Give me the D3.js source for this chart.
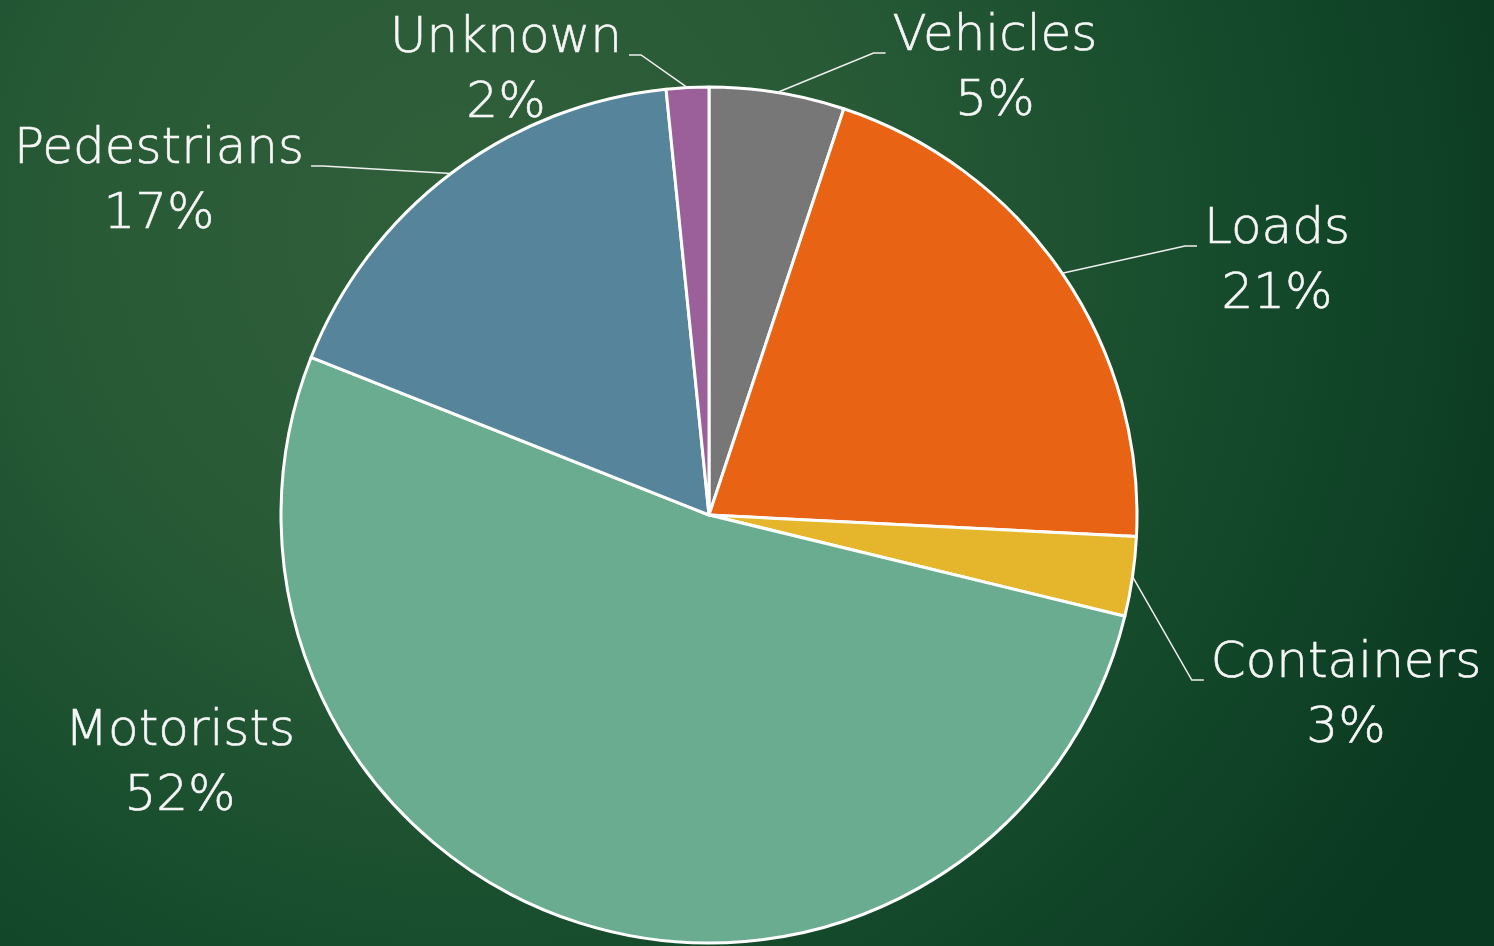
<!DOCTYPE html>
<html>
<head>
<meta charset="utf-8">
<script src="https://cdn.jsdelivr.net/npm/d3@7"></script>
<style>
  html, body { margin: 0; padding: 0; background: #1c4c2e; }
  svg { display: block; }
</style>
</head>
<body>
<svg id="chart" width="1494" height="946"></svg>
<script>
// Incident sources, share of total (%)
const categories = ["Vehicles", "Loads", "Containers", "Motorists", "Pedestrians", "Unknown"];
const shares = [5.1, 20.7, 3.0, 52.2, 17.4, 1.6];
const colors = ["#777777", "#e96314", "#e5b52b", "#6aac90", "#55849b", "#9b5f99"];

// Label placement: centre x and first baseline, relative to the pie centre,
// and which side of the label the leader line attaches to (0 = none).
const labelLayout = {
  Vehicles:    { dx: 286,  dy: -465, side: -1 },
  Loads:       { dx: 568,  dy: -272, side: -1 },
  Containers:  { dx: 637,  dy: 162,  side: -1 },
  Motorists:   { dx: -529, dy: 230,  side: 0 },
  Pedestrians: { dx: -550, dy: -352, side: 1 },
  Unknown:     { dx: -203, dy: -463, side: 1 }
};

const W = 1494, H = 946;
const cx = 709, cy = 515, R = 428;
const fontFamily = "'DejaVu Sans', 'Open Sans', sans-serif";

const svg = d3.select("#chart");

// Chalkboard-green backdrop
const defs = svg.append("defs");
const bg = defs.append("radialGradient")
  .attr("id", "bg")
  .attr("gradientUnits", "userSpaceOnUse")
  .attr("cx", 470).attr("cy", 230).attr("r", 1120);
[[0, "#30603a"], [0.35, "#285a36"], [0.7, "#144a2b"], [1, "#0a3921"]].forEach(([o, c]) =>
  bg.append("stop").attr("offset", o).attr("stop-color", c));
svg.append("rect").attr("width", W).attr("height", H).attr("fill", "url(#bg)");

const data = categories.map((name, i) => ({ name, value: shares[i], color: colors[i] }));
const total = d3.sum(shares);

const pie = d3.pie().value(d => d.value).sort(null);
const arcs = pie(data);
const arc = d3.arc().innerRadius(0).outerRadius(R);

const g = svg.append("g").attr("transform", `translate(${cx},${cy})`);

g.selectAll("path.slice")
  .data(arcs)
  .join("path")
  .attr("class", "slice")
  .attr("d", arc)
  .attr("fill", d => d.data.color)
  .attr("stroke", "#ffffff")
  .attr("stroke-width", 3)
  .attr("stroke-linejoin", "round");

// Data labels: category name and rounded percentage
const labels = g.selectAll("g.label")
  .data(arcs)
  .join("g")
  .attr("class", "label");

function labelText(sel, x, y, str) {
  return sel.append("text")
    .attr("x", x).attr("y", y)
    .attr("text-anchor", "middle")
    .attr("font-family", fontFamily)
    .attr("font-weight", 200)
    .attr("font-size", 50)
    .attr("fill", "#f6f6f6")
    .attr("stroke", "#f6f6f6")
    .attr("stroke-width", 0.6)
    .text(str);
}

labels.each(function (d) {
  const L = labelLayout[d.data.name];
  const sel = d3.select(this);
  const t1 = labelText(sel, L.dx, L.dy, d.data.name);
  labelText(sel, L.dx, L.dy + 65, Math.round(d.data.value / total * 100) + "%");

  if (L.side !== 0) {
    const w = t1.node().getComputedTextLength();
    const edgeX = L.dx + L.side * (w / 2 + 7);
    const elbowX = edgeX + L.side * 12;
    const ly = L.dy + 3;
    const mid = (d.startAngle + d.endAngle) / 2;
    const ax = Math.sin(mid) * R, ay = -Math.cos(mid) * R;
    sel.append("polyline")
      .attr("points", [[edgeX, ly], [elbowX, ly], [ax, ay]].map(p => p.join(",")).join(" "))
      .attr("fill", "none")
      .attr("stroke", "#f0f0f0")
      .attr("stroke-width", 1.5);
  }
});
</script>
</body>
</html>
